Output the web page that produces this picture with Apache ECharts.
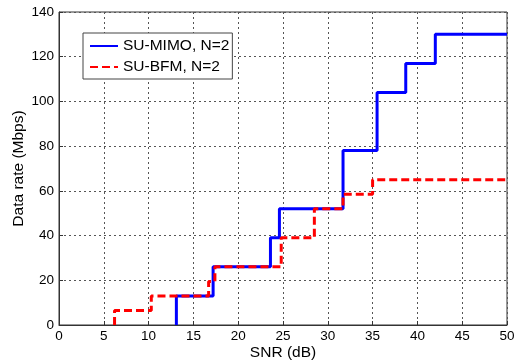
<!DOCTYPE html>
<html><head><meta charset="utf-8">
<script src="https://cdn.jsdelivr.net/npm/echarts@6/dist/echarts.min.js"></script>
<style>html,body{margin:0;padding:0;background:#fff}#c{width:514px;height:363px}</style>
</head><body><div id="c"></div>
<script>
// SU-MIMO, N=2 : step positions (dB) and rate levels (Mbps)
const mimoX = [13.1, 17.2, 23.6, 24.6, 31.7, 35.5, 38.7, 42.0];
const mimoY = [13, 26, 39, 52, 78, 104, 117, 130];
// SU-BFM, N=2
const bfmX = [6.2, 10.3, 16.7, 17.4, 24.8, 28.5, 31.7, 35.0];
const bfmY = [6.5, 13, 19.5, 26, 39, 52, 58.5, 65];
const xMax = 50;
const xTicks = [0,5,10,15,20,25,30,35,40,45,50];
const yTicks = [0,20,40,60,80,100,120,140];

function stairs(xs, ys) {
  const pts = [[xs[0], 0]];
  for (let i = 0; i < xs.length; i++) {
    pts.push([xs[i], ys[i]]);
    const nx = i + 1 < xs.length ? xs[i + 1] : xMax;
    pts.push([nx, ys[i]]);
  }
  return pts;
}

const font = 'Liberation Sans, Arial, sans-serif';
const chart = echarts.init(document.getElementById('c'), null, {renderer: 'canvas'});
chart.setOption({
  animation: false,
  backgroundColor: '#fff',
  grid: {left: 59, right: 7, top: 12, bottom: 38, outerBoundsMode: 'none', containLabel: false,
         show: true, borderColor: '#333', borderWidth: 1, backgroundColor: '#fff'},
  legend: {
    left: 83, top: 33, orient: 'vertical', itemWidth: 28, itemHeight: 10, itemGap: 5,
    padding: [5, 3, 4, 6], borderColor: '#444', borderWidth: 1, backgroundColor: '#fff',
    itemStyle: {opacity: 0},
    textStyle: {fontFamily: font, fontSize: 15.5, color: '#000'},
    data: ['SU-MIMO, N=2', 'SU-BFM, N=2']
  },
  xAxis: {
    type: 'value', min: 0, max: 50, interval: 5,
    name: 'SNR (dB)', nameLocation: 'middle', nameGap: 20, nameMoveOverlap: false,
    nameTextStyle: {fontFamily: font, fontSize: 15.5, color: '#000'},
    axisLine: {show: true, lineStyle: {color: '#333'}},
    axisTick: {show: true, inside: true, length: 4, lineStyle: {color: '#333'}},
    axisLabel: {fontFamily: font, fontSize: 13.5, color: '#000', margin: 4,
      formatter: v => xTicks.includes(v) ? String(v) : ''},
    splitLine: {show: true, lineStyle: {color: '#555', type: [2, 3], width: 1}}
  },
  yAxis: {
    type: 'value', min: 0, max: 140, interval: 20,
    name: 'Data rate (Mbps)', nameLocation: 'middle', nameGap: 32, nameMoveOverlap: false,
    nameTextStyle: {fontFamily: font, fontSize: 15.5, color: '#000'},
    axisLine: {show: true, lineStyle: {color: '#333'}},
    axisTick: {show: true, inside: true, length: 4, lineStyle: {color: '#333'}},
    axisLabel: {fontFamily: font, fontSize: 13.5, color: '#000', margin: 5,
      formatter: v => yTicks.includes(v) ? String(v) : ''},
    splitLine: {show: true, lineStyle: {color: '#555', type: [2, 3], width: 1}}
  },
  series: [
    {name: 'SU-MIMO, N=2', type: 'line', data: stairs(mimoX, mimoY), symbol: 'none', showSymbol: false,
     color: '#0000ff', lineStyle: {color: '#0000ff', width: 3}, z: 3},
    {name: 'SU-BFM, N=2', type: 'line', data: stairs(bfmX, bfmY), symbol: 'none', showSymbol: false,
     color: '#ff0000', lineStyle: {color: '#ff0000', width: 3, type: [8, 4]}, z: 4}
  ]
});
</script></body></html>
